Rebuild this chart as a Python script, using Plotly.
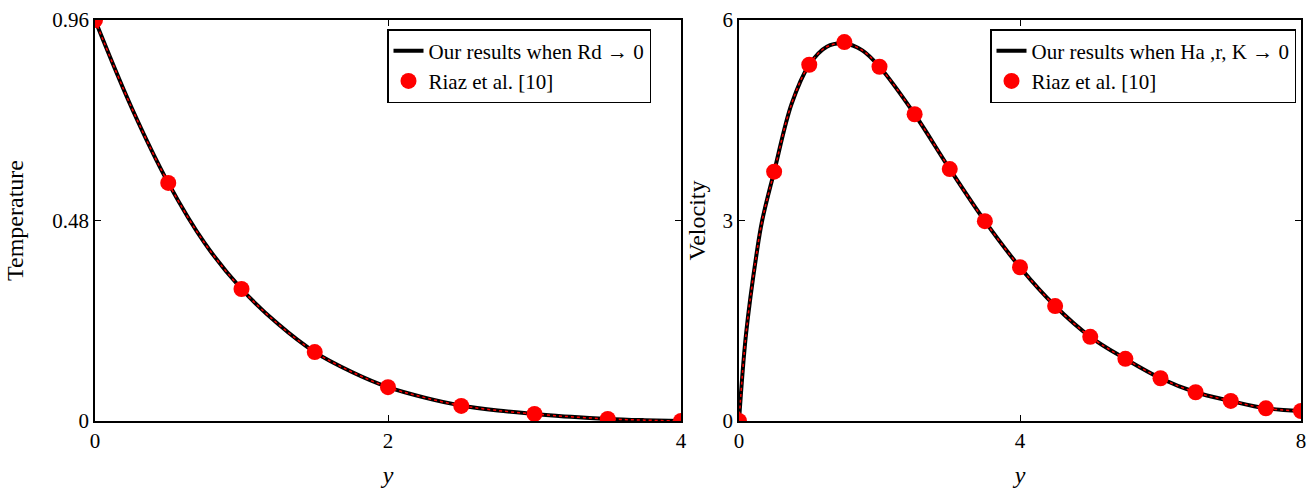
import plotly.graph_objects as go

# ---- Data ----
# Temperature profile (our results, Rd -> 0)
t_y = [0, 0.25, 0.5, 0.75, 1.0, 1.25, 1.5, 1.75, 2.0, 2.25, 2.5, 2.75, 3.0, 3.25, 3.5, 3.75, 4.0]
t_val = [0.96, 0.75, 0.57, 0.425, 0.316, 0.232, 0.165, 0.118, 0.081, 0.056, 0.037, 0.025, 0.017, 0.010, 0.005, 0.002, 0.0]
# Riaz et al. [10] temperature points
r_ty = [0, 0.5, 1.0, 1.5, 2.0, 2.5, 3.0, 3.5, 4.0]
r_tval = [0.96, 0.57, 0.316, 0.165, 0.081, 0.036, 0.017, 0.005, 0.0]

# Velocity profile (our results, Ha, r, K -> 0)
v_y = [0, 0.1, 0.25, 0.33, 0.5, 0.75, 1.0, 1.25, 1.5, 1.75, 2.0, 2.5, 3.0, 3.5, 4.0, 4.5, 5.0, 5.5, 6.0, 6.5, 7.0, 7.5, 8.0]
v_val = [0.0, 1.3, 2.5, 3.0, 3.73, 4.75, 5.33, 5.6, 5.65, 5.55, 5.30, 4.59, 3.77, 2.99, 2.30, 1.72, 1.26, 0.93, 0.64, 0.43, 0.30, 0.19, 0.15]
# Riaz et al. [10] velocity points
r_vy = [0, 0.5, 1.0, 1.5, 2.0, 2.5, 3.0, 3.5, 4.0, 4.5, 5.0, 5.5, 6.0, 6.5, 7.0, 7.5, 8.0]
r_vval = [0.0, 3.73, 5.33, 5.67, 5.30, 4.59, 3.77, 2.99, 2.30, 1.72, 1.26, 0.93, 0.64, 0.43, 0.30, 0.19, 0.15]

FONT = "'Liberation Serif', 'Times New Roman', 'DejaVu Serif', serif"
RED = "#ff0000"

fig = go.Figure()

# Left panel
fig.add_trace(go.Scatter(x=t_y, y=t_val, mode="lines", line=dict(color="black", width=4, shape="spline"),
                         name="Our results when Rd \u2192 0", xaxis="x", yaxis="y", legend="legend"))
fig.add_trace(go.Scatter(x=t_y, y=t_val, mode="lines", line=dict(color=RED, width=1.5, dash="dot", shape="spline"),
                         showlegend=False, xaxis="x", yaxis="y", hoverinfo="skip"))
fig.add_trace(go.Scatter(x=r_ty, y=r_tval, mode="markers", marker=dict(color=RED, size=16),
                         name="Riaz et al. [10]", xaxis="x", yaxis="y", legend="legend"))

# Right panel
fig.add_trace(go.Scatter(x=v_y, y=v_val, mode="lines", line=dict(color="black", width=4, shape="spline"),
                         name="Our results when Ha ,r, K \u2192 0", xaxis="x2", yaxis="y2", legend="legend2"))
fig.add_trace(go.Scatter(x=v_y, y=v_val, mode="lines", line=dict(color=RED, width=1.5, dash="dot", shape="spline"),
                         showlegend=False, xaxis="x2", yaxis="y2", hoverinfo="skip"))
fig.add_trace(go.Scatter(x=r_vy, y=r_vval, mode="markers", marker=dict(color=RED, size=16),
                         name="Riaz et al. [10]", xaxis="x2", yaxis="y2", legend="legend2"))

axis_common = dict(showline=True, linecolor="black", linewidth=1.5, mirror="ticks",
                   ticks="inside", ticklen=6, tickcolor="black", showgrid=False, zeroline=False,
                   automargin=False,
                   tickfont=dict(family=FONT, size=21, color="black"))

ydom = [(488 - 421) / 488, (488 - 20) / 488]
TF = dict(family=FONT, size=24, color="black")

fig.update_layout(
    width=1315, height=488,
    margin=dict(l=0, r=0, t=0, b=0, autoexpand=False),
    paper_bgcolor="white", plot_bgcolor="white",
    font=dict(family=FONT, size=20, color="black"),
    xaxis=dict(domain=[95 / 1315, 681 / 1315], range=[0, 4], tickvals=[0, 2, 4],
               title=dict(text="<i>y</i>", font=TF, standoff=14), anchor="y", **axis_common),
    yaxis=dict(domain=ydom, range=[0, 0.96], tickvals=[0, 0.48, 0.96], ticktext=["0", "0.48", "0.96"],
               title=dict(text="Temperature", font=TF, standoff=22), anchor="x", **axis_common),
    xaxis2=dict(domain=[739 / 1315, 1301 / 1315], range=[0, 8], tickvals=[0, 4, 8],
                title=dict(text="<i>y</i>", font=TF, standoff=14), anchor="y2", **axis_common),
    yaxis2=dict(domain=ydom, range=[0, 6], tickvals=[0, 3, 6],
                title=dict(text="Velocity", font=TF, standoff=10), anchor="x2", **axis_common),
    legend=dict(x=651 / 1315, y=(488 - 29) / 488, xanchor="right", yanchor="top",
                bordercolor="black", borderwidth=1.5, bgcolor="white",
                font=dict(family=FONT, size=21), tracegroupgap=0, itemwidth=30),
    legend2=dict(x=1296 / 1315, y=(488 - 29) / 488, xanchor="right", yanchor="top",
                 bordercolor="black", borderwidth=1.5, bgcolor="white",
                 font=dict(family=FONT, size=21), tracegroupgap=0, itemwidth=30),
)

fig.write_html("out.html")
